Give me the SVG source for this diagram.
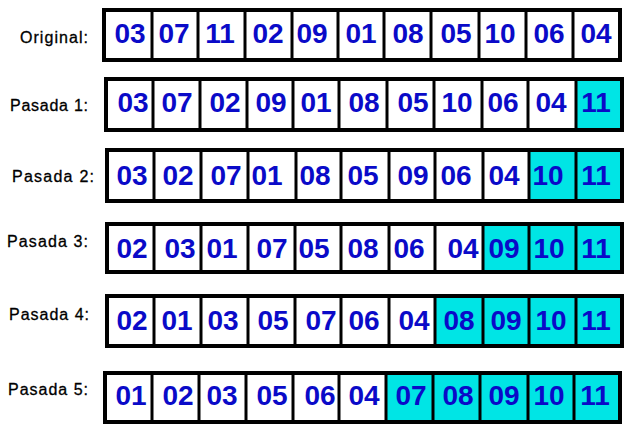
<svg xmlns="http://www.w3.org/2000/svg" width="636" height="430" viewBox="0 0 636 430">
<style>
.bg{fill:#ffffff}
.hl{fill:#00e5e5;stroke:none}
.div{stroke:#000;stroke-width:3}
.box{fill:none;stroke:#000;stroke-width:4}
.num{font-family:"Liberation Sans",Arial,sans-serif;font-weight:bold;font-size:28px;fill:#0a0ac8;text-anchor:middle}
.lbl{font-family:"Liberation Sans",Arial,sans-serif;font-size:16px;fill:#000;stroke:#000;stroke-width:0.3}
</style>
<rect class="bg" x="0" y="0" width="636" height="430"/>

<g id="row-original">
<text class="lbl" x="20" y="43" textLength="68" lengthAdjust="spacing">Original:</text>
<line class="div" x1="152" y1="10" x2="152" y2="60"/><line class="div" x1="198" y1="10" x2="198" y2="60"/><line class="div" x1="245" y1="10" x2="245" y2="60"/><line class="div" x1="292" y1="10" x2="292" y2="60"/><line class="div" x1="338" y1="10" x2="338" y2="60"/><line class="div" x1="384" y1="10" x2="384" y2="60"/><line class="div" x1="431" y1="10" x2="431" y2="60"/><line class="div" x1="479" y1="10" x2="479" y2="60"/><line class="div" x1="526" y1="10" x2="526" y2="60"/><line class="div" x1="573" y1="10" x2="573" y2="60"/>
<rect class="box" x="104" y="10" width="516" height="50"/>
<text class="num" x="130" y="43">03</text><text class="num" x="174" y="43">07</text><text class="num" x="220" y="43">11</text><text class="num" x="268" y="43">02</text><text class="num" x="312" y="43">09</text><text class="num" x="361" y="43">01</text><text class="num" x="408" y="43">08</text><text class="num" x="456" y="43">05</text><text class="num" x="500" y="43">10</text><text class="num" x="549" y="43">06</text><text class="num" x="596" y="43">04</text>
</g>

<g id="row-pasada1">
<text class="lbl" x="10" y="111" textLength="78" lengthAdjust="spacing">Pasada 1:</text>
<rect class="hl" x="576" y="79" width="46" height="51"/>
<line class="div" x1="153" y1="79" x2="153" y2="130"/><line class="div" x1="200" y1="79" x2="200" y2="130"/><line class="div" x1="247" y1="79" x2="247" y2="130"/><line class="div" x1="293" y1="79" x2="293" y2="130"/><line class="div" x1="339" y1="79" x2="339" y2="130"/><line class="div" x1="387" y1="79" x2="387" y2="130"/><line class="div" x1="434" y1="79" x2="434" y2="130"/><line class="div" x1="482" y1="79" x2="482" y2="130"/><line class="div" x1="528" y1="79" x2="528" y2="130"/><line class="div" x1="576" y1="79" x2="576" y2="130"/>
<rect class="box" x="106" y="79" width="516" height="51"/>
<text class="num" x="133" y="112">03</text><text class="num" x="177" y="112">07</text><text class="num" x="225" y="112">02</text><text class="num" x="271" y="112">09</text><text class="num" x="316" y="112">01</text><text class="num" x="364" y="112">08</text><text class="num" x="413" y="112">05</text><text class="num" x="457" y="112">10</text><text class="num" x="503" y="112">06</text><text class="num" x="551" y="112">04</text><text class="num" x="596" y="112">11</text>
</g>

<g id="row-pasada2">
<text class="lbl" x="12" y="182" textLength="82" lengthAdjust="spacing">Pasada 2:</text>
<rect class="hl" x="529" y="150" width="93" height="51"/>
<line class="div" x1="154" y1="150" x2="154" y2="201"/><line class="div" x1="201" y1="150" x2="201" y2="201"/><line class="div" x1="248" y1="150" x2="248" y2="201"/><line class="div" x1="296" y1="150" x2="296" y2="201"/><line class="div" x1="341" y1="150" x2="341" y2="201"/><line class="div" x1="389" y1="150" x2="389" y2="201"/><line class="div" x1="435" y1="150" x2="435" y2="201"/><line class="div" x1="483" y1="150" x2="483" y2="201"/><line class="div" x1="529" y1="150" x2="529" y2="201"/><line class="div" x1="576" y1="150" x2="576" y2="201"/>
<rect class="box" x="107" y="150" width="515" height="51"/>
<text class="num" x="132" y="185">03</text><text class="num" x="178" y="185">02</text><text class="num" x="226" y="185">07</text><text class="num" x="267" y="185">01</text><text class="num" x="315" y="185">08</text><text class="num" x="363" y="185">05</text><text class="num" x="413" y="185">09</text><text class="num" x="456" y="185">06</text><text class="num" x="504" y="185">04</text><text class="num" x="548" y="185">10</text><text class="num" x="596" y="185">11</text>
</g>

<g id="row-pasada3">
<text class="lbl" x="7" y="247" textLength="81" lengthAdjust="spacing">Pasada 3:</text>
<rect class="hl" x="483" y="224" width="139" height="48"/>
<line class="div" x1="154" y1="224" x2="154" y2="272"/><line class="div" x1="201" y1="224" x2="201" y2="272"/><line class="div" x1="248" y1="224" x2="248" y2="272"/><line class="div" x1="295" y1="224" x2="295" y2="272"/><line class="div" x1="341" y1="224" x2="341" y2="272"/><line class="div" x1="389" y1="224" x2="389" y2="272"/><line class="div" x1="435" y1="224" x2="435" y2="272"/><line class="div" x1="483" y1="224" x2="483" y2="272"/><line class="div" x1="529" y1="224" x2="529" y2="272"/><line class="div" x1="576" y1="224" x2="576" y2="272"/>
<rect class="box" x="107" y="224" width="515" height="48"/>
<text class="num" x="132" y="258">02</text><text class="num" x="180" y="258">03</text><text class="num" x="222" y="258">01</text><text class="num" x="272" y="258">07</text><text class="num" x="314" y="258">05</text><text class="num" x="363" y="258">08</text><text class="num" x="409" y="258">06</text><text class="num" x="463" y="258">04</text><text class="num" x="504" y="258">09</text><text class="num" x="549" y="258">10</text><text class="num" x="596" y="258">11</text>
</g>

<g id="row-pasada4">
<text class="lbl" x="9" y="320" textLength="80" lengthAdjust="spacing">Pasada 4:</text>
<rect class="hl" x="435" y="296" width="187" height="50"/>
<line class="div" x1="154" y1="296" x2="154" y2="346"/><line class="div" x1="201" y1="296" x2="201" y2="346"/><line class="div" x1="248" y1="296" x2="248" y2="346"/><line class="div" x1="295" y1="296" x2="295" y2="346"/><line class="div" x1="341" y1="296" x2="341" y2="346"/><line class="div" x1="389" y1="296" x2="389" y2="346"/><line class="div" x1="435" y1="296" x2="435" y2="346"/><line class="div" x1="483" y1="296" x2="483" y2="346"/><line class="div" x1="529" y1="296" x2="529" y2="346"/><line class="div" x1="576" y1="296" x2="576" y2="346"/>
<rect class="box" x="107" y="296" width="515" height="50"/>
<text class="num" x="132" y="330">02</text><text class="num" x="177" y="330">01</text><text class="num" x="223" y="330">03</text><text class="num" x="273" y="330">05</text><text class="num" x="321" y="330">07</text><text class="num" x="364" y="330">06</text><text class="num" x="414" y="330">04</text><text class="num" x="459" y="330">08</text><text class="num" x="506" y="330">09</text><text class="num" x="551" y="330">10</text><text class="num" x="596" y="330">11</text>
</g>

<g id="row-pasada5">
<text class="lbl" x="8" y="395" textLength="80" lengthAdjust="spacing">Pasada 5:</text>
<rect class="hl" x="386" y="373" width="234" height="49"/>
<line class="div" x1="152" y1="373" x2="152" y2="422"/><line class="div" x1="199" y1="373" x2="199" y2="422"/><line class="div" x1="246" y1="373" x2="246" y2="422"/><line class="div" x1="293" y1="373" x2="293" y2="422"/><line class="div" x1="339" y1="373" x2="339" y2="422"/><line class="div" x1="386" y1="373" x2="386" y2="422"/><line class="div" x1="433" y1="373" x2="433" y2="422"/><line class="div" x1="480" y1="373" x2="480" y2="422"/><line class="div" x1="528" y1="373" x2="528" y2="422"/><line class="div" x1="574" y1="373" x2="574" y2="422"/>
<rect class="box" x="105" y="373" width="515" height="49"/>
<text class="num" x="131" y="405">01</text><text class="num" x="178" y="405">02</text><text class="num" x="222" y="405">03</text><text class="num" x="272" y="405">05</text><text class="num" x="320" y="405">06</text><text class="num" x="364" y="405">04</text><text class="num" x="411" y="405">07</text><text class="num" x="458" y="405">08</text><text class="num" x="504" y="405">09</text><text class="num" x="549" y="405">10</text><text class="num" x="595" y="405">11</text>
</g>
</svg>
